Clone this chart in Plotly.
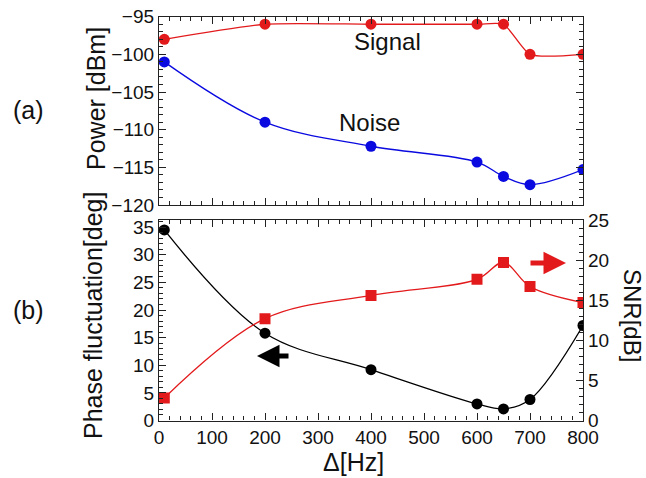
import plotly.graph_objects as go

W, H = 646, 478

# ---- data ----
freq = [10, 200, 400, 600, 650, 700, 800]
signal_dbm = [-98, -96, -96, -96, -96, -100, -100]
noise_dbm = [-101, -109, -112.2, -114.3, -116.2, -117.3, -115.3]
phase_deg = [34.5, 15.8, 9.2, 3.0, 2.1, 3.8, 17.2]
snr_db = [2.8, 12.7, 15.6, 17.6, 19.7, 16.7, 14.7]

x_ticks = [0, 100, 200, 300, 400, 500, 600, 700, 800]

RED = "#e31a1c"
BLUE = "#0a0ae0"
BLACK = "#000000"
AX = "#222222"
FONT = "Liberation Sans, Arial, sans-serif"


def px(x):
    return x / W


def py(y):
    return 1 - y / H


fig = go.Figure()

fig.add_trace(go.Scatter(x=freq, y=signal_dbm, mode="lines+markers",
                         line=dict(color=RED, width=1.3, shape="spline", smoothing=0.6),
                         marker=dict(color=RED, size=11), xaxis="x", yaxis="y"))
fig.add_trace(go.Scatter(x=freq, y=noise_dbm, mode="lines+markers",
                         line=dict(color=BLUE, width=1.3, shape="spline", smoothing=1.0),
                         marker=dict(color=BLUE, size=11), xaxis="x", yaxis="y"))
fig.add_trace(go.Scatter(x=freq, y=phase_deg, mode="lines+markers",
                         line=dict(color=BLACK, width=1.3, shape="spline", smoothing=1.0),
                         marker=dict(color=BLACK, size=11), xaxis="x2", yaxis="y2"))
fig.add_trace(go.Scatter(x=freq, y=snr_db, mode="lines+markers",
                         line=dict(color=RED, width=1.3, shape="spline", smoothing=1.0),
                         marker=dict(color=RED, size=11, symbol="square"), xaxis="x2", yaxis="y3"))

xdom = [px(159), px(583)]
common_axis = dict(showline=True, linecolor=AX, linewidth=1.2, ticks="inside",
                   ticklen=7, tickwidth=1, tickcolor=AX, showgrid=False, zeroline=False,
                   automargin=False,
                   tickfont=dict(family=FONT, size=19, color="#111"))
minor = dict(ticklen=4, ticks="inside", tickcolor=AX, showgrid=False)

fig.update_layout(
    width=W, height=H, margin=dict(l=0, r=0, t=0, b=0),
    paper_bgcolor="white", plot_bgcolor="white", showlegend=False,
    font=dict(family=FONT, color="#111"),
    xaxis=dict(domain=xdom, range=[0, 800], anchor="y", mirror="ticks",
               showticklabels=False, tickvals=x_ticks,
               minor=dict(dtick=20, **minor), **common_axis),
    yaxis=dict(domain=[py(205), py(16.7)], range=[-120, -95], anchor="x", mirror="ticks",
               dtick=5, minor=dict(dtick=1, **minor), **common_axis),
    xaxis2=dict(domain=xdom, range=[0, 800], anchor="y2", mirror="ticks",
                tickvals=x_ticks, minor=dict(dtick=20, **minor), **common_axis),
    yaxis2=dict(domain=[py(420.5), py(220)], range=[0, 36.3], anchor="x2",
                dtick=5, minor=dict(dtick=1, **minor), **common_axis),
    yaxis3=dict(range=[0, 25], overlaying="y2", side="right", anchor="x2",
                dtick=5, minor=dict(dtick=1, **minor), **common_axis),
)

ann = [
    dict(text="Power [dBm]", x=px(96), y=py(99), textangle=-90, font=dict(size=25)),
    dict(text="Phase fluctuation[deg]", x=px(93), y=py(316), textangle=-90, font=dict(size=25)),
    dict(text="SNR[dB]", x=px(633), y=py(315), textangle=90, font=dict(size=24)),
    dict(text="Δ[Hz]", x=px(353), y=py(462), font=dict(size=25)),
    dict(text="(a)", x=px(28), y=py(110), font=dict(size=25)),
    dict(text="(b)", x=px(28), y=py(310), font=dict(size=25)),
    dict(text="Signal", x=px(387), y=py(42), font=dict(size=24)),
    dict(text="Noise", x=px(370), y=py(123), font=dict(size=24)),
]
for a in ann:
    fig.add_annotation(xref="paper", yref="paper", showarrow=False,
                       xanchor="center", yanchor="middle", **a)

# arrows (tail offsets in pixels)
fig.add_annotation(xref="paper", yref="paper", x=px(257), y=py(356), ax=33, ay=0,
                   axref="pixel", ayref="pixel", text="", showarrow=True,
                   arrowhead=2, arrowsize=0.9, arrowwidth=5, arrowcolor=BLACK)
fig.add_annotation(xref="paper", yref="paper", x=px(566), y=py(263), ax=-37, ay=0,
                   axref="pixel", ayref="pixel", text="", showarrow=True,
                   arrowhead=2, arrowsize=0.9, arrowwidth=5, arrowcolor=RED)

fig.write_html("out.html")
